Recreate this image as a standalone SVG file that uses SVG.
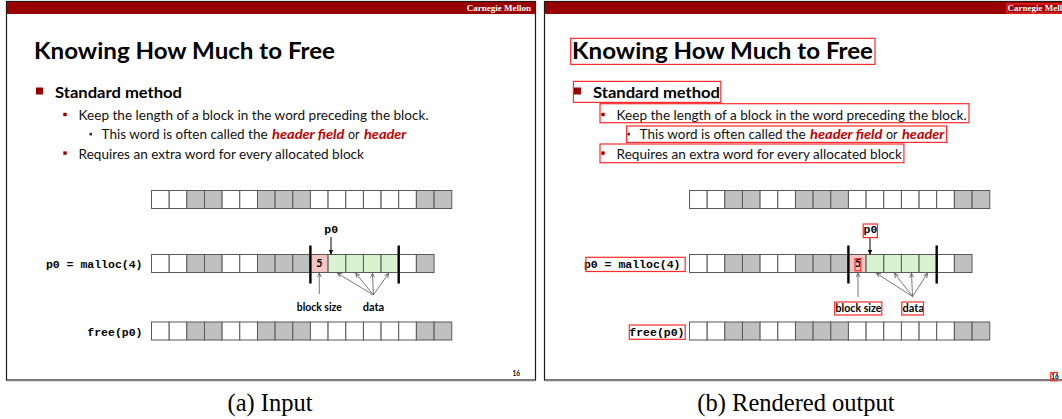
<svg xmlns="http://www.w3.org/2000/svg" width="1062" height="419" viewBox="0 0 1062 419">
<style>
.frame{fill:#fff;stroke:#1a1a1a;stroke-width:1.2}
.bar{fill:#990000}
.cm{font-family:"Liberation Serif",serif;font-weight:bold;font-size:9px;fill:#fff}
.title{font-family:Lato,"Liberation Sans",sans-serif;font-weight:bold;font-size:23px;fill:#000}
.l1{font-family:Lato,"Liberation Sans",sans-serif;font-weight:bold;font-size:15px;fill:#000}
.l2{font-family:Lato,"Liberation Sans",sans-serif;font-size:13.5px;fill:#111}
.l3{font-family:Lato,"Liberation Sans",sans-serif;font-size:13px;fill:#111}
.em{font-family:Lato,"Liberation Sans",sans-serif;font-size:13px;font-weight:bold;font-style:italic;fill:#c00000}
.b1{fill:#990000}
.b3{fill:#222}
.c{stroke:#595959;stroke-width:1;fill:#fff}
.g{fill:#c0c0c0}
.pk{fill:#f4c4c4}
.gr{fill:#d9f2d0}
.mono{font-family:"Liberation Mono",monospace;font-weight:bold;font-size:11.5px;fill:#000}
.lab{font-family:Lato,"Liberation Sans",sans-serif;font-weight:bold;font-size:11px;fill:#000}
.five{font-family:Lato,"Liberation Sans",sans-serif;font-weight:bold;font-size:10.5px;fill:#000}
.pg{font-family:Lato,"Liberation Sans",sans-serif;font-weight:bold;font-size:6.5px;fill:#000}
.thick{stroke:#000;stroke-width:2.4}
.thin{stroke:#555;stroke-width:0.8;fill:none;marker-end:url(#open)}
.cap{font-family:"Liberation Serif",serif;font-size:24.5px;fill:#000}
.ov{fill:none;stroke:#ff2a2a;stroke-width:1.2}
</style>
<defs>
<marker id="solid" viewBox="0 0 10 10" refX="10" refY="5" markerWidth="5" markerHeight="6" markerUnits="userSpaceOnUse" orient="auto"><path d="M0,0 L10,5 L0,10 z" fill="#000"/></marker>
<marker id="open" viewBox="0 0 10 10" refX="9.5" refY="5" markerWidth="5" markerHeight="5" markerUnits="userSpaceOnUse" orient="auto"><path d="M1,1 L9.5,5 L1,9" fill="none" stroke="#555" stroke-width="1.6"/></marker>
</defs>
<rect width="1062" height="419" fill="#fff"/>

<!-- LEFT PANEL: input -->
<g id="slide-input">
<rect class="frame" x="6.5" y="1.5" width="529" height="378.5"/>
<line x1="6.5" y1="380.8" x2="535.5" y2="380.8" stroke="#888" stroke-width="1"/>
<rect class="bar" x="7" y="2" width="528" height="12"/>
<text class="cm" x="531" y="11" text-anchor="end">Carnegie Mellon</text>
<g id="title"><text class="title" x="34" y="59" textLength="301" lengthAdjust="spacingAndGlyphs">Knowing How Much to Free</text></g>
<g id="bullets">
<rect class="b1" x="36" y="87.5" width="7" height="7"/>
<text class="l1" x="55" y="97.5" textLength="127" lengthAdjust="spacingAndGlyphs">Standard method</text>
<rect class="b1" x="63.3" y="112.8" width="3.4" height="3.4"/>
<text class="l2" x="78.6" y="120.2" textLength="350" lengthAdjust="spacingAndGlyphs">Keep the length of a block in the word preceding the block.</text>
<rect class="b3" x="89.5" y="132.8" width="2.4" height="2.6"/>
<text class="l3" x="101.6" y="139" textLength="166" lengthAdjust="spacingAndGlyphs">This word is often called the</text>
<text class="em" x="272" y="139" textLength="72.4" lengthAdjust="spacingAndGlyphs">header field</text>
<text class="l3" x="348" y="139" textLength="11.6" lengthAdjust="spacingAndGlyphs">or</text>
<text class="em" x="364" y="139" textLength="42.4" lengthAdjust="spacingAndGlyphs">header</text>
<rect class="b1" x="63.3" y="151.4" width="3.4" height="3.4"/>
<text class="l2" x="78.6" y="158.6" textLength="285.4" lengthAdjust="spacingAndGlyphs">Requires an extra word for every allocated block</text>
</g>
<g id="row-initial">
<rect class="c" x="151.5" y="190.5" width="17.66" height="18"/>
<rect class="c" x="169.2" y="190.5" width="17.66" height="18"/>
<rect class="c g" x="186.8" y="190.5" width="17.66" height="18"/>
<rect class="c g" x="204.5" y="190.5" width="17.66" height="18"/>
<rect class="c" x="222.1" y="190.5" width="17.66" height="18"/>
<rect class="c" x="239.8" y="190.5" width="17.66" height="18"/>
<rect class="c g" x="257.5" y="190.5" width="17.66" height="18"/>
<rect class="c g" x="275.1" y="190.5" width="17.66" height="18"/>
<rect class="c g" x="292.8" y="190.5" width="17.66" height="18"/>
<rect class="c" x="310.4" y="190.5" width="17.66" height="18"/>
<rect class="c" x="328.1" y="190.5" width="17.66" height="18"/>
<rect class="c" x="345.8" y="190.5" width="17.66" height="18"/>
<rect class="c" x="363.4" y="190.5" width="17.66" height="18"/>
<rect class="c" x="381.1" y="190.5" width="17.66" height="18"/>
<rect class="c" x="398.7" y="190.5" width="17.66" height="18"/>
<rect class="c g" x="416.4" y="190.5" width="17.66" height="18"/>
<rect class="c g" x="434.1" y="190.5" width="17.66" height="18"/>
</g>
<g id="row-malloc">
<text class="mono" x="142.5" y="267.5" text-anchor="end">p0 = malloc(4)</text>
<rect class="c" x="151.5" y="254.5" width="17.66" height="18"/>
<rect class="c" x="169.2" y="254.5" width="17.66" height="18"/>
<rect class="c g" x="186.8" y="254.5" width="17.66" height="18"/>
<rect class="c g" x="204.5" y="254.5" width="17.66" height="18"/>
<rect class="c" x="222.1" y="254.5" width="17.66" height="18"/>
<rect class="c" x="239.8" y="254.5" width="17.66" height="18"/>
<rect class="c g" x="257.5" y="254.5" width="17.66" height="18"/>
<rect class="c g" x="275.1" y="254.5" width="17.66" height="18"/>
<rect class="c g" x="292.8" y="254.5" width="17.66" height="18"/>
<rect class="c pk" x="310.4" y="254.5" width="17.66" height="18"/>
<rect class="c gr" x="328.1" y="254.5" width="17.66" height="18"/>
<rect class="c gr" x="345.8" y="254.5" width="17.66" height="18"/>
<rect class="c gr" x="363.4" y="254.5" width="17.66" height="18"/>
<rect class="c gr" x="381.1" y="254.5" width="17.66" height="18"/>
<rect class="c" x="398.7" y="254.5" width="17.66" height="18"/>
<rect class="c g" x="416.4" y="254.5" width="17.66" height="18"/>
<text class="five" x="319.3" y="267.2" text-anchor="middle">5</text>
<line class="thick" x1="310.4" y1="245.5" x2="310.4" y2="283.5"/>
<line class="thick" x1="398.7" y1="245.5" x2="398.7" y2="283.5"/>
<text class="mono" x="324.3" y="233">p0</text>
<text class="lab" x="296.8" y="311" textLength="45" lengthAdjust="spacingAndGlyphs">block size</text>
<text class="lab" x="362.7" y="311" textLength="21.5" lengthAdjust="spacingAndGlyphs">data</text>
</g>
<g id="row-free">
<text class="mono" x="142.5" y="335.5" text-anchor="end">free(p0)</text>
<rect class="c" x="151.5" y="322" width="17.66" height="18"/>
<rect class="c" x="169.2" y="322" width="17.66" height="18"/>
<rect class="c g" x="186.8" y="322" width="17.66" height="18"/>
<rect class="c g" x="204.5" y="322" width="17.66" height="18"/>
<rect class="c" x="222.1" y="322" width="17.66" height="18"/>
<rect class="c" x="239.8" y="322" width="17.66" height="18"/>
<rect class="c g" x="257.5" y="322" width="17.66" height="18"/>
<rect class="c g" x="275.1" y="322" width="17.66" height="18"/>
<rect class="c g" x="292.8" y="322" width="17.66" height="18"/>
<rect class="c" x="310.4" y="322" width="17.66" height="18"/>
<rect class="c" x="328.1" y="322" width="17.66" height="18"/>
<rect class="c" x="345.8" y="322" width="17.66" height="18"/>
<rect class="c" x="363.4" y="322" width="17.66" height="18"/>
<rect class="c" x="381.1" y="322" width="17.66" height="18"/>
<rect class="c" x="398.7" y="322" width="17.66" height="18"/>
<rect class="c g" x="416.4" y="322" width="17.66" height="18"/>
<rect class="c g" x="434.1" y="322" width="17.66" height="18"/>
</g>
<g id="connectors-input">
<line x1="331" y1="237" x2="331" y2="254.5" stroke="#000" stroke-width="1" marker-end="url(#solid)"/>
<line class="thin" x1="319.3" y1="294" x2="319.3" y2="273"/>
<line class="thin" x1="373.4" y1="295" x2="337.5" y2="273.3"/>
<line class="thin" x1="373.4" y1="295" x2="355.8" y2="273.3"/>
<line class="thin" x1="373.4" y1="295" x2="372.5" y2="273.3"/>
<line class="thin" x1="373.4" y1="295" x2="388.6" y2="273.3"/>
</g>
<text class="pg" x="512.5" y="376">16</text>
</g>

<!-- RIGHT PANEL: rendered output -->
<g id="slide-output" transform="translate(538,0)">
<rect class="frame" x="6.5" y="1.5" width="529" height="378.5"/>
<line x1="6.5" y1="380.8" x2="535.5" y2="380.8" stroke="#888" stroke-width="1"/>
<rect class="bar" x="7" y="2" width="528" height="12"/>
<text class="cm" x="469.5" y="11">Carnegie Mell</text>
<g id="title-out"><text class="title" x="34" y="59" textLength="301" lengthAdjust="spacingAndGlyphs">Knowing How Much to Free</text></g>
<g id="bullets-out">
<rect class="b1" x="36" y="87.5" width="7" height="7"/>
<text class="l1" x="55" y="97.5" textLength="127" lengthAdjust="spacingAndGlyphs">Standard method</text>
<rect class="b1" x="63.3" y="112.8" width="3.4" height="3.4"/>
<text class="l2" x="78.6" y="120.2" textLength="350" lengthAdjust="spacingAndGlyphs">Keep the length of a block in the word preceding the block.</text>
<rect class="b3" x="89.5" y="132.8" width="2.4" height="2.6"/>
<text class="l3" x="101.6" y="139" textLength="166" lengthAdjust="spacingAndGlyphs">This word is often called the</text>
<text class="em" x="272" y="139" textLength="72.4" lengthAdjust="spacingAndGlyphs">header field</text>
<text class="l3" x="348" y="139" textLength="11.6" lengthAdjust="spacingAndGlyphs">or</text>
<text class="em" x="364" y="139" textLength="42.4" lengthAdjust="spacingAndGlyphs">header</text>
<rect class="b1" x="63.3" y="151.4" width="3.4" height="3.4"/>
<text class="l2" x="78.6" y="158.6" textLength="285.4" lengthAdjust="spacingAndGlyphs">Requires an extra word for every allocated block</text>
</g>
<g id="row-initial-out">
<rect class="c" x="151.5" y="190.5" width="17.66" height="18"/>
<rect class="c" x="169.2" y="190.5" width="17.66" height="18"/>
<rect class="c g" x="186.8" y="190.5" width="17.66" height="18"/>
<rect class="c g" x="204.5" y="190.5" width="17.66" height="18"/>
<rect class="c" x="222.1" y="190.5" width="17.66" height="18"/>
<rect class="c" x="239.8" y="190.5" width="17.66" height="18"/>
<rect class="c g" x="257.5" y="190.5" width="17.66" height="18"/>
<rect class="c g" x="275.1" y="190.5" width="17.66" height="18"/>
<rect class="c g" x="292.8" y="190.5" width="17.66" height="18"/>
<rect class="c" x="310.4" y="190.5" width="17.66" height="18"/>
<rect class="c" x="328.1" y="190.5" width="17.66" height="18"/>
<rect class="c" x="345.8" y="190.5" width="17.66" height="18"/>
<rect class="c" x="363.4" y="190.5" width="17.66" height="18"/>
<rect class="c" x="381.1" y="190.5" width="17.66" height="18"/>
<rect class="c" x="398.7" y="190.5" width="17.66" height="18"/>
<rect class="c g" x="416.4" y="190.5" width="17.66" height="18"/>
<rect class="c g" x="434.1" y="190.5" width="17.66" height="18"/>
</g>
<g id="row-malloc-out">
<text class="mono" x="142.5" y="267.5" text-anchor="end">p0 = malloc(4)</text>
<rect class="c" x="151.5" y="254.5" width="17.66" height="18"/>
<rect class="c" x="169.2" y="254.5" width="17.66" height="18"/>
<rect class="c g" x="186.8" y="254.5" width="17.66" height="18"/>
<rect class="c g" x="204.5" y="254.5" width="17.66" height="18"/>
<rect class="c" x="222.1" y="254.5" width="17.66" height="18"/>
<rect class="c" x="239.8" y="254.5" width="17.66" height="18"/>
<rect class="c g" x="257.5" y="254.5" width="17.66" height="18"/>
<rect class="c g" x="275.1" y="254.5" width="17.66" height="18"/>
<rect class="c g" x="292.8" y="254.5" width="17.66" height="18"/>
<rect class="c pk" x="310.4" y="254.5" width="17.66" height="18"/>
<rect class="c gr" x="328.1" y="254.5" width="17.66" height="18"/>
<rect class="c gr" x="345.8" y="254.5" width="17.66" height="18"/>
<rect class="c gr" x="363.4" y="254.5" width="17.66" height="18"/>
<rect class="c gr" x="381.1" y="254.5" width="17.66" height="18"/>
<rect class="c" x="398.7" y="254.5" width="17.66" height="18"/>
<rect class="c g" x="416.4" y="254.5" width="17.66" height="18"/>
<text class="five" x="320" y="267.2" text-anchor="middle">5</text>
<line class="thick" x1="310.4" y1="245.5" x2="310.4" y2="283.5"/>
<line class="thick" x1="398.7" y1="245.5" x2="398.7" y2="283.5"/>
<text class="mono" x="325.5" y="233">p0</text>
<text class="lab" x="297.5" y="311.5" textLength="46" lengthAdjust="spacingAndGlyphs">block size</text>
<text class="lab" x="364.5" y="311.5" textLength="21.5" lengthAdjust="spacingAndGlyphs">data</text>
</g>
<g id="row-free-out">
<text class="mono" x="146.5" y="335.5" text-anchor="end">free(p0)</text>
<rect class="c" x="151.5" y="322" width="17.66" height="18"/>
<rect class="c" x="169.2" y="322" width="17.66" height="18"/>
<rect class="c g" x="186.8" y="322" width="17.66" height="18"/>
<rect class="c g" x="204.5" y="322" width="17.66" height="18"/>
<rect class="c" x="222.1" y="322" width="17.66" height="18"/>
<rect class="c" x="239.8" y="322" width="17.66" height="18"/>
<rect class="c g" x="257.5" y="322" width="17.66" height="18"/>
<rect class="c g" x="275.1" y="322" width="17.66" height="18"/>
<rect class="c g" x="292.8" y="322" width="17.66" height="18"/>
<rect class="c" x="310.4" y="322" width="17.66" height="18"/>
<rect class="c" x="328.1" y="322" width="17.66" height="18"/>
<rect class="c" x="345.8" y="322" width="17.66" height="18"/>
<rect class="c" x="363.4" y="322" width="17.66" height="18"/>
<rect class="c" x="381.1" y="322" width="17.66" height="18"/>
<rect class="c" x="398.7" y="322" width="17.66" height="18"/>
<rect class="c g" x="416.4" y="322" width="17.66" height="18"/>
<rect class="c g" x="434.1" y="322" width="17.66" height="18"/>
</g>
<g id="connectors-output">
<line x1="332" y1="237.5" x2="332" y2="254.5" stroke="#000" stroke-width="1" marker-end="url(#solid)"/>
<line class="thin" x1="320" y1="297" x2="320" y2="273"/>
<line class="thin" x1="374.5" y1="296.5" x2="338.5" y2="273.3"/>
<line class="thin" x1="374.5" y1="296.5" x2="356.5" y2="273.3"/>
<line class="thin" x1="374.5" y1="296.5" x2="373.5" y2="273.3"/>
<line class="thin" x1="374.5" y1="296.5" x2="389.5" y2="273.3"/>
</g>
<text class="pg" x="513.3" y="379">16</text>
</g>

<!-- Detection boxes overlay on rendered output -->
<g id="overlay">
<rect class="ov" x="1007" y="4" width="60" height="9"/>
<rect class="ov" x="570.7" y="38.3" width="304.3" height="26.1"/>
<rect class="ov" x="573.4" y="81.4" width="147.4" height="21"/>
<rect class="ov" x="600" y="103.7" width="369" height="19"/>
<rect class="ov" x="626.6" y="126" width="320" height="16.4"/>
<rect class="ov" x="600" y="144" width="303.9" height="18.7"/>
<rect class="ov" x="863.2" y="224" width="14.2" height="13.6"/>
<rect class="ov" x="585.9" y="257.3" width="99.3" height="14.2"/>
<rect class="ov" x="855" y="258.6" width="5.8" height="12.2"/>
<rect class="ov" x="834.7" y="302" width="47.1" height="13"/>
<rect class="ov" x="901.8" y="302" width="21.7" height="13"/>
<rect class="ov" x="629.3" y="325" width="55.9" height="14.3"/>
<rect class="ov" x="1050.7" y="372.5" width="6.7" height="8.2"/>
</g>

<g id="captions">
<text class="cap" x="270" y="411" text-anchor="middle">(a) Input</text>
<text class="cap" x="796" y="411" text-anchor="middle">(b) Rendered output</text>
</g>
</svg>
